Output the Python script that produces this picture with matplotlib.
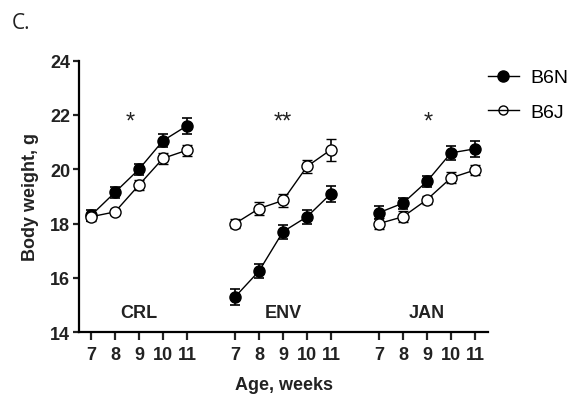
import matplotlib
matplotlib.use("Agg")
import matplotlib.pyplot as plt
from matplotlib.lines import Line2D
import numpy as np

plt.rcParams['font.family'] = ['Liberation Sans', 'DejaVu Sans']

groups = ["CRL", "ENV", "JAN"]
weeks = [7, 8, 9, 10, 11]
b6n_mean = {
    "CRL": [18.3, 19.15, 20.0, 21.05, 21.6],
    "ENV": [15.3, 16.25, 17.7, 18.25, 19.1],
    "JAN": [18.4, 18.75, 19.55, 20.6, 20.75],
}
b6n_err = {
    "CRL": [0.2, 0.2, 0.2, 0.25, 0.3],
    "ENV": [0.3, 0.25, 0.25, 0.25, 0.3],
    "JAN": [0.25, 0.2, 0.2, 0.25, 0.3],
}
b6j_mean = {
    "CRL": [18.25, 18.43, 19.42, 20.4, 20.7],
    "ENV": [18.0, 18.55, 18.85, 20.1, 20.72],
    "JAN": [18.0, 18.25, 18.88, 19.68, 19.97],
}
b6j_err = {
    "CRL": [0.15, 0.1, 0.2, 0.2, 0.2],
    "ENV": [0.15, 0.25, 0.25, 0.25, 0.4],
    "JAN": [0.2, 0.2, 0.15, 0.2, 0.2],
}
signif = {"CRL": "*", "ENV": "**", "JAN": "*"}
yticks = [14, 16, 18, 20, 22, 24]

fig = plt.figure(figsize=(5.77, 4.02), dpi=100)
ax = fig.add_axes([0.137, 0.171, 0.709, 0.676])

text_col = '#222222'
fs = 13
xt, xl = [], []
for gi, g in enumerate(groups):
    x = np.arange(len(weeks)) + gi * (len(weeks) + 1)
    xt.extend(x)
    xl.extend([str(w) for w in weeks])
    ax.errorbar(x, b6n_mean[g], yerr=b6n_err[g], color='black', lw=1.0,
                marker='o', ms=8, mfc='black', mec='black', capsize=3.5,
                elinewidth=1.2, capthick=1.2, zorder=3)
    ax.errorbar(x, b6j_mean[g], yerr=b6j_err[g], color='black', lw=1.0,
                marker='o', ms=8, mfc='white', mec='black', mew=1.0, capsize=3.5,
                elinewidth=1.2, capthick=1.2, zorder=3)
    ax.text(x[2], 14.72, g, ha='center', va='center', fontsize=fs,
            fontweight='bold', color=text_col)
    ax.text(x[2] - (0.35 if g == "CRL" else 0) + (0.05 if g == "JAN" else 0), 21.75,
            signif[g], ha='center', va='center', fontsize=17, color=text_col)

ax.set_xlim(-0.5, 16.55)
ax.set_ylim(14, 24)
ax.set_xticks(xt)
ax.set_xticklabels(xl)
ax.set_yticks(yticks)
for s in ['top', 'right']:
    ax.spines[s].set_visible(False)
for s in ['left', 'bottom']:
    ax.spines[s].set_linewidth(1.6)
ax.tick_params(axis='both', width=1.6, labelsize=fs, colors=text_col)
ax.tick_params(axis='y', length=4.5, pad=2)
ax.tick_params(axis='x', length=6, pad=4)
for lbl in ax.get_xticklabels() + ax.get_yticklabels():
    lbl.set_fontweight('bold')

ax.set_xlabel('Age, weeks', fontsize=fs, fontweight='bold', color=text_col,
              labelpad=9)
ax.set_ylabel('Body weight, g', fontsize=fs, fontweight='bold', color=text_col,
              labelpad=8)

fig.text(0.02, 0.942, 'C.', fontsize=15, color=text_col, va='center',
         family=['Open Sans', 'DejaVu Sans'])

handles = [
    Line2D([], [], color='black', lw=1.0, marker='o', ms=8, mfc='black', mec='black'),
    Line2D([], [], color='black', lw=1.0, marker='o', ms=6.5, mfc='none', mec='black'),
]
fig.legend(handles, ['B6N', 'B6J'], loc='upper left', bbox_to_anchor=(0.815, 0.87),
           frameon=False, fontsize=14, handlelength=1.6, handletextpad=0.6,
           labelspacing=0.85)

fig.savefig('out.png', dpi=100)
